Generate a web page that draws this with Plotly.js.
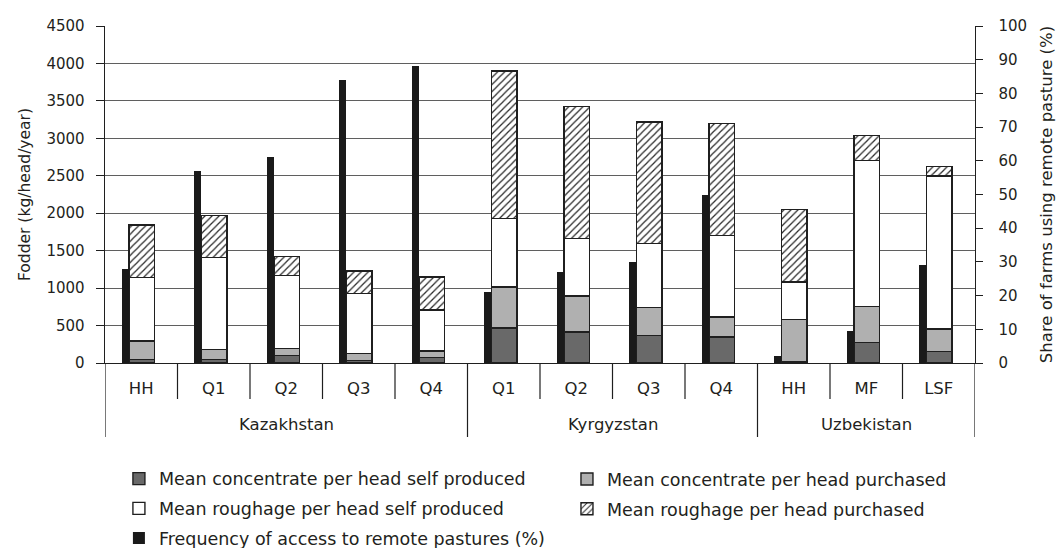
<!DOCTYPE html>
<html>
<head>
<meta charset="utf-8">
<script src="https://cdn.plot.ly/plotly-3.0.1.min.js"></script>
<style>html,body{margin:0;padding:0;background:#fff;}#chart{width:1057px;height:548px;}</style>
</head>
<body>
<div id="chart"></div>
<script>
const countries = ["Kazakhstan","Kazakhstan","Kazakhstan","Kazakhstan","Kazakhstan",
                   "Kyrgyzstan","Kyrgyzstan","Kyrgyzstan","Kyrgyzstan",
                   "Uzbekistan","Uzbekistan","Uzbekistan"];
const groups = ["HH","Q1","Q2","Q3","Q4","Q1","Q2","Q3","Q4","HH","MF","LSF"];
const concSelf      = [50, 50, 100, 35, 70, 467, 415, 365, 345, 20, 275, 155];
const concPurchased = [245, 130, 90, 95, 90, 548, 480, 375, 270, 560, 480, 300];
const roughSelf     = [845, 1225, 980, 795, 550, 912, 770, 855, 1085, 500, 1950, 2040];
const roughPurchased= [705, 565, 250, 305, 440, 1971, 1758, 1625, 1495, 970, 335, 125];
const remoteAccess  = [28, 57, 61, 84, 88, 21, 27, 30, 50, 2, 9.5, 29];

const FONT = "'DejaVu Sans', sans-serif";
const TXT = "#231f20";
const AX = "#1f1f1f";
const idx = groups.map((_, i) => i);
const stackW = 0.35, stackOff = -0.17;
const line = {color: AX, width: 1.4};

function stackTrace(name, vals, marker, legend) {
  return {type: "bar", name: name, x: idx, y: vals, legend: legend, legendgroup: name,
          width: stackW, offset: stackOff, marker: Object.assign({line: line}, marker),
          hoverinfo: "skip"};
}

const traces = [
  stackTrace("Mean concentrate per head self produced", concSelf, {color: "#696969"}, "legend"),
  stackTrace("Mean concentrate per head purchased", concPurchased, {color: "#b0b0b0"}, "legend2"),
  stackTrace("Mean roughage per head self produced", roughSelf, {color: "#ffffff"}, "legend"),
  stackTrace("Mean roughage per head purchased", roughPurchased,
             {color: "#ffffff", pattern: {shape: "/", bgcolor: "#ffffff", fgcolor: "#2a2a2a", size: 5, solidity: 0.25}}, "legend2"),
  {type: "bar", name: "Frequency of access to remote pastures (%)", x: idx, y: remoteAccess,
   yaxis: "y2", width: 0.1, offset: -0.27, legend: "legend", legendgroup: "freq",
   marker: {color: "#1a1a1a", line: {color: "#1a1a1a", width: 0}}, hoverinfo: "skip"}
];

// category boundary ticks and country dividers (derived from the category arrays)
const shapes = [];
const tickDepth = 36 / 337, divDepth = 74 / 337;
for (let i = 0; i <= groups.length; i++) {
  const isDiv = (i === 0 || i === groups.length || countries[i] !== countries[i - 1]);
  shapes.push({type: "line", xref: "x", yref: "paper", x0: i - 0.5, x1: i - 0.5,
               y0: 0, y1: -(isDiv ? divDepth : tickDepth), line: {color: AX, width: 1.2}});
}
const annotations = [];
const uniq = [...new Set(countries)];
uniq.forEach(c => {
  const ii = idx.filter(i => countries[i] === c);
  const mid = (ii[0] + ii[ii.length - 1]) / 2;
  annotations.push({xref: "x", yref: "paper", x: mid, y: -62 / 337, yanchor: "middle",
                    showarrow: false, text: c, font: {family: FONT, size: 16.5, color: TXT}});
});

const legendCommon = {orientation: "v", xanchor: "left", yanchor: "top", traceorder: "grouped",
  tracegroupgap: 4, font: {family: FONT, size: 17.5, color: TXT}, bgcolor: "rgba(0,0,0,0)", borderwidth: 0};

const layout = {
  width: 1057, height: 548,
  margin: {l: 105, r: 82, t: 26, b: 185, autoexpand: false},
  paper_bgcolor: "#fff", plot_bgcolor: "#fff",
  font: {family: FONT, size: 15, color: TXT},
  barmode: "stack",
  showlegend: true,
  legend: Object.assign({}, legendCommon, {x: 0.016, y: -0.29}),
  legend2: Object.assign({}, legendCommon, {x: 0.531, y: -0.291}),
  shapes: shapes,
  annotations: annotations,
  xaxis: {range: [-0.5, groups.length - 0.5], tickvals: idx, ticktext: groups,
          showline: true, linecolor: AX, linewidth: 1.4, ticks: "", ticklabelstandoff: 10,
          showgrid: false, zeroline: false, automargin: false,
          tickfont: {family: FONT, size: 16.5, color: TXT}},
  yaxis: {range: [0, 4500], dtick: 500, tick0: 0, showgrid: true, gridcolor: "#5f5f5f", gridwidth: 1.2,
          showline: true, linecolor: AX, linewidth: 1.4, ticks: "outside", ticklen: 8,
          tickcolor: AX, ticklabelstandoff: 8, zeroline: false, automargin: false,
          tickfont: {family: FONT, size: 15, color: TXT},
          title: {text: "Fodder (kg/head/year)", font: {family: FONT, size: 15.5, color: TXT}, standoff: 12}},
  yaxis2: {overlaying: "y", side: "right", range: [0, 100], dtick: 10, tick0: 0, showgrid: false,
           showline: true, linecolor: AX, linewidth: 1.4, ticks: "outside", ticklen: 7,
           tickcolor: AX, ticklabelstandoff: 12, zeroline: false, automargin: false,
           tickfont: {family: FONT, size: 15, color: TXT},
           title: {text: "Share of farms using remote pasture (%)", font: {family: FONT, size: 16.5, color: TXT}, standoff: 14}}
};

Plotly.newPlot("chart", traces, layout, {displayModeBar: false, staticPlot: true});
</script>
</body>
</html>
